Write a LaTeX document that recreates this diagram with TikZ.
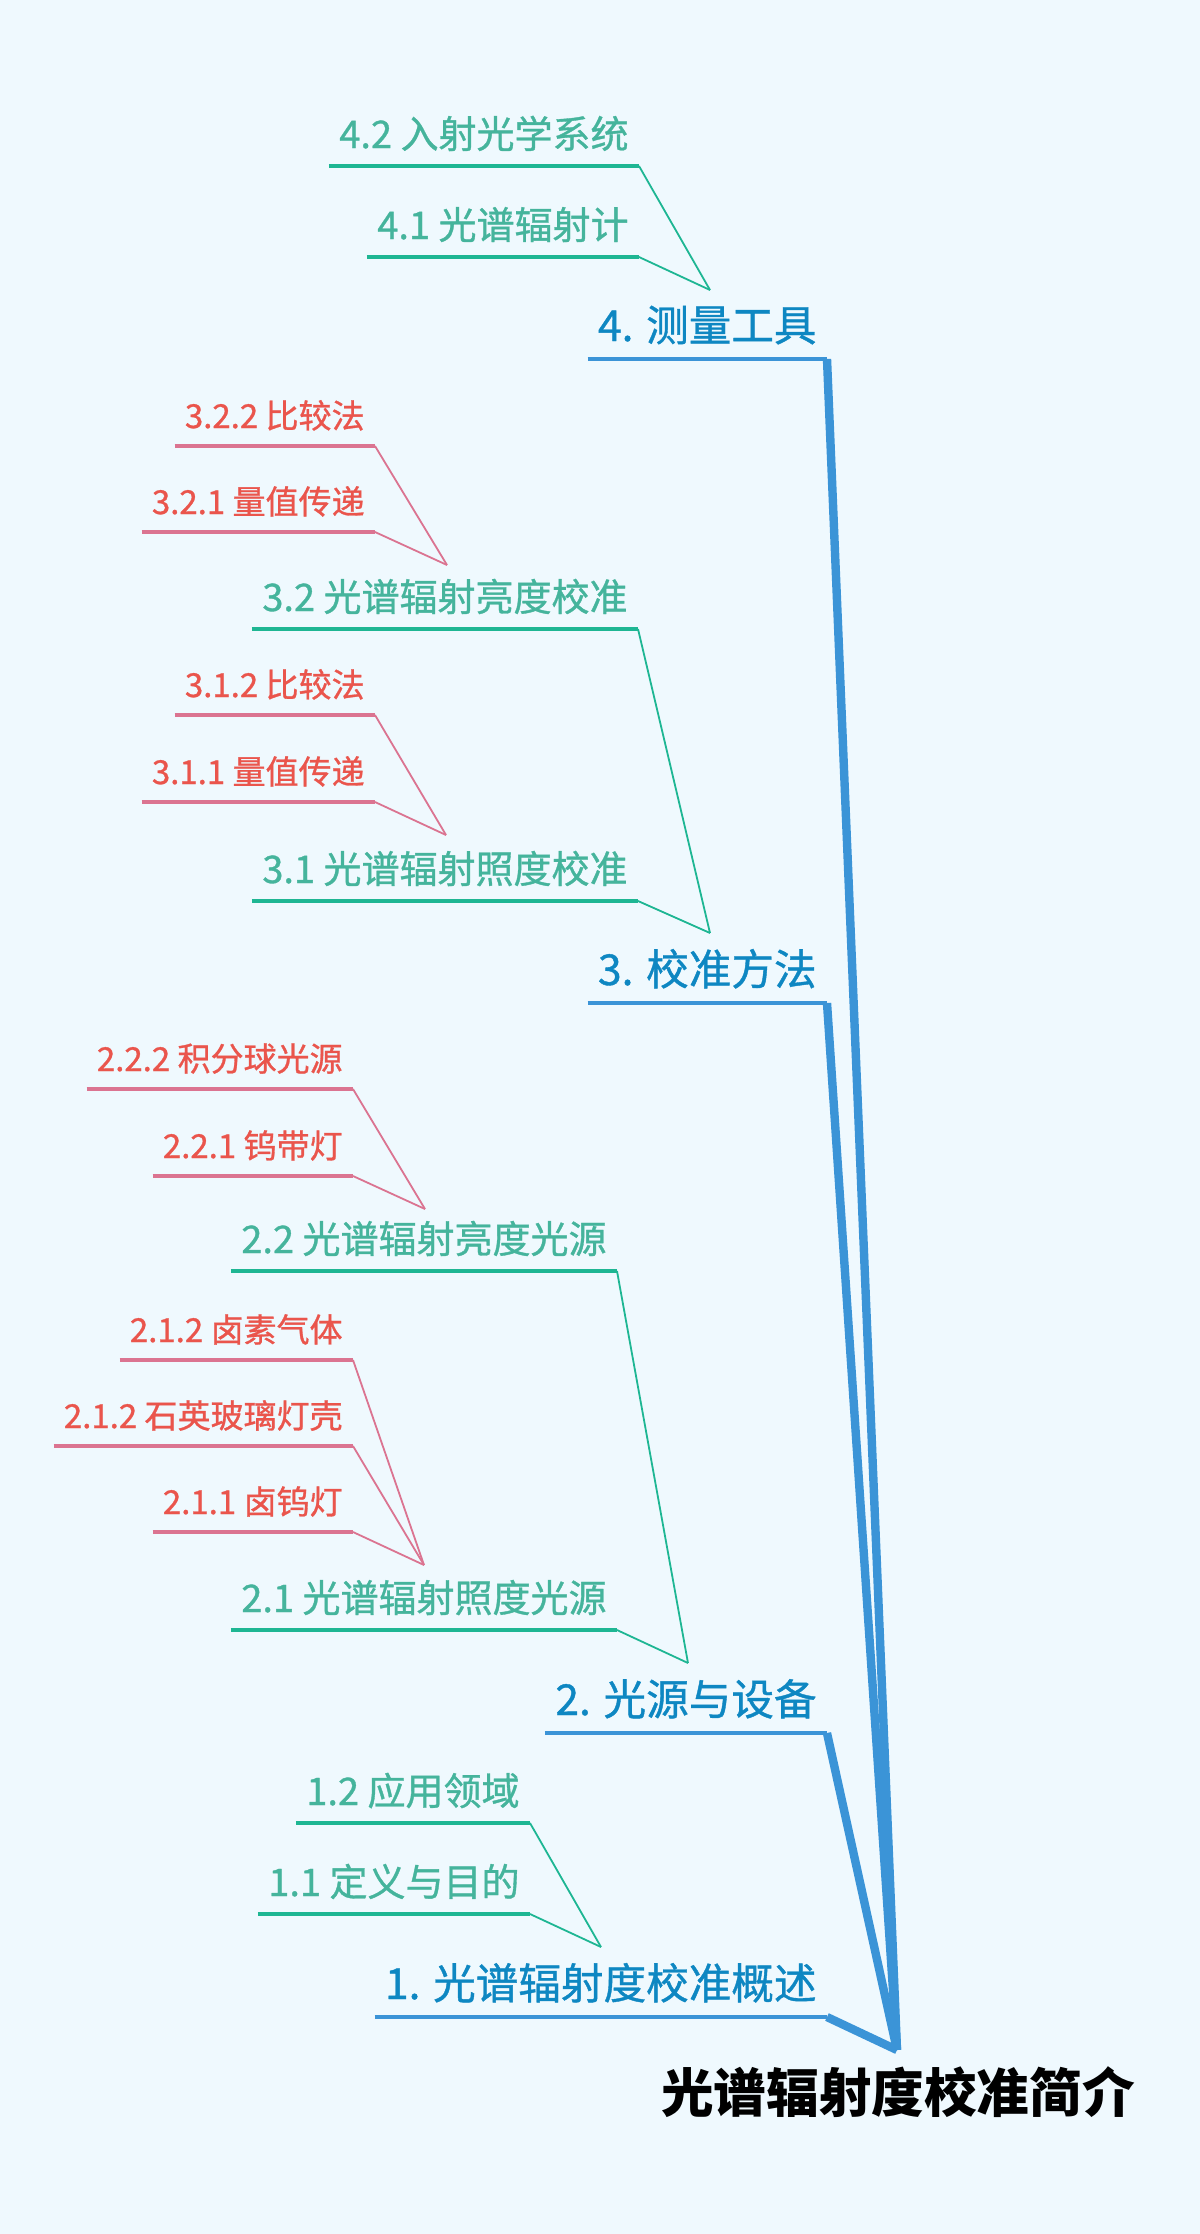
\documentclass[tikz,border=0pt]{standalone}
\usepackage{fontspec}
\newfontfamily\cjk{Noto Sans CJK SC}
\newfontfamily\cjkm[FakeBold=0.9]{Noto Sans CJK SC}
\definecolor{bg}{HTML}{EFF9FE}
\definecolor{bluetxt}{HTML}{0E87C2}
\definecolor{blueln}{HTML}{3B94D7}
\definecolor{greentxt}{HTML}{45B49C}
\definecolor{greenln}{HTML}{1EB693}
\definecolor{redtxt}{HTML}{EA554C}
\definecolor{pinkln}{HTML}{DB7491}
\begin{document}
\begin{tikzpicture}[x=0.5pt,y=-0.5pt,
  lone/.style={font=\cjkm\fontsize{21.3pt}{25pt}\selectfont,text=bluetxt,anchor=base east,inner xsep=5pt,inner ysep=0pt},
  ltwo/.style={font=\cjkm\fontsize{19pt}{22pt}\selectfont,text=greentxt,anchor=base east,inner xsep=5pt,inner ysep=0pt},
  lthree/.style={font=\cjkm\fontsize{16.5pt}{20pt}\selectfont,text=redtxt,anchor=base east,inner xsep=5pt,inner ysep=0pt},
  rootnode/.style={font=\cjk\bfseries\fontsize{26.3pt}{30pt}\selectfont,text=black,anchor=base,inner sep=0pt},
  ulone/.style={draw=blueln,line width=1.8pt},
  ultwo/.style={draw=greenln,line width=2pt},
  ulthree/.style={draw=pinkln,line width=2pt},
  trunk/.style={draw=blueln,line width=4.2pt},
  cgreen/.style={draw=greenln,line width=0.9pt},
  cpink/.style={draw=pinkln,line width=0.9pt}]
\fill[bg] (0,0) rectangle (1200,2234);
\useasboundingbox (0,0) rectangle (1200,2234);

% convergence points
\coordinate (c4) at (710,290);
\coordinate (c32) at (447,565);
\coordinate (c31) at (446,835);
\coordinate (c3) at (710,933);
\coordinate (c22) at (425,1209);
\coordinate (c21) at (424,1565);
\coordinate (c2) at (688,1663);
\coordinate (c1) at (601,1947);
\coordinate (croot) at (897,2050);

% root
\node[rootnode] (root) at (898,2112) {光谱辐射度校准简介};

% level 1
\node[lone] (n4) at (827,341) {4. 测量工具};
\node[lone] (n3) at (827,985) {3. 校准方法};
\node[lone] (n2) at (827,1715) {2. 光源与设备};
\node[lone] (n1) at (827,1999) {1. 光谱辐射度校准概述};

% level 2
\node[ltwo] (n42) at (639,148) {4.2 入射光学系统};
\node[ltwo] (n41) at (639,239) {4.1 光谱辐射计};
\node[ltwo] (n32) at (638,611) {3.2 光谱辐射亮度校准};
\node[ltwo] (n31) at (638,883) {3.1 光谱辐射照度校准};
\node[ltwo] (n22) at (617,1253) {2.2 光谱辐射亮度光源};
\node[ltwo] (n21) at (617,1612) {2.1 光谱辐射照度光源};
\node[ltwo] (n12) at (530,1805) {1.2 应用领域};
\node[ltwo] (n11) at (530,1896) {1.1 定义与目的};

% level 3
\node[lthree] (n322) at (375,428) {3.2.2 比较法};
\node[lthree] (n321) at (375,514) {3.2.1 量值传递};
\node[lthree] (n312) at (375,697) {3.1.2 比较法};
\node[lthree] (n311) at (375,784) {3.1.1 量值传递};
\node[lthree] (n222) at (353,1071) {2.2.2 积分球光源};
\node[lthree] (n221) at (353,1158) {2.2.1 钨带灯};
\node[lthree] (n213) at (353,1342) {2.1.2 卤素气体};
\node[lthree] (n212) at (353,1428) {2.1.2 石英玻璃灯壳};
\node[lthree] (n211) at (353,1514) {2.1.1 卤钨灯};

% underlines
\foreach \n in {n4,n3,n2,n1}
  \draw[ulone] ([yshift=-9pt]\n.base west) -- ([yshift=-9pt]\n.base east);
\foreach \n in {n42,n41,n32,n31,n22,n21,n12,n11}
  \draw[ultwo] ([yshift=-9pt]\n.base west) -- ([yshift=-9pt]\n.base east);
\foreach \n in {n322,n321,n312,n311,n222,n221,n213,n212,n211}
  \draw[ulthree] ([yshift=-9pt]\n.base west) -- ([yshift=-9pt]\n.base east);

% pink connectors
\foreach \n/\c in {n322/c32,n321/c32,n312/c31,n311/c31,n222/c22,n221/c22,n213/c21,n212/c21,n211/c21}
  \draw[cpink] ([yshift=-9pt]\n.base east) -- (\c);
% green connectors
\foreach \n/\c in {n42/c4,n41/c4,n32/c3,n31/c3,n22/c2,n21/c2,n12/c1,n11/c1}
  \draw[cgreen] ([yshift=-9pt]\n.base east) -- (\c);
% trunks
\foreach \n in {n4,n3,n2,n1}
  \draw[trunk] ([yshift=-9pt]\n.base east) -- (croot);
\end{tikzpicture}
\end{document}
